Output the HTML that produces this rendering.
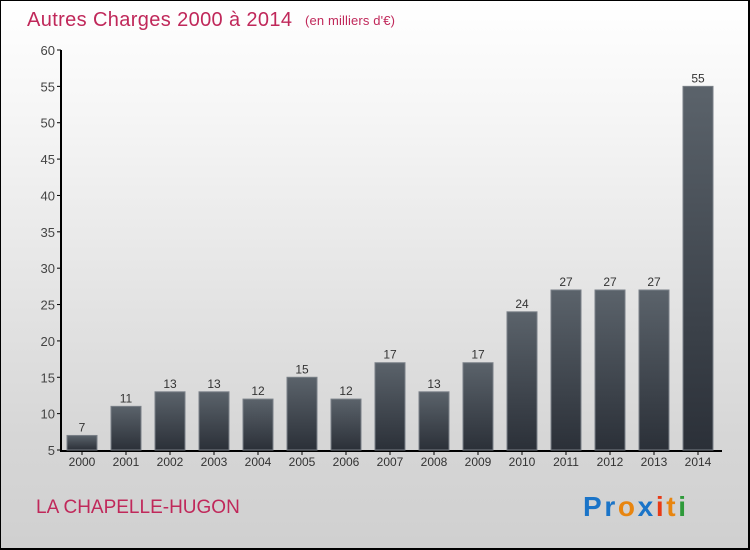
<!DOCTYPE html>
<html><head><meta charset="utf-8"><style>
body{margin:0}
#c{width:750px;height:550px;position:relative;box-sizing:border-box;border:1px solid #000;border-right-width:2px;border-bottom-width:2px;background:linear-gradient(#ffffff,#f6f6f6 20%,#d6d6d6 80%,#d0d0d0);font-family:"Liberation Sans",sans-serif;overflow:hidden}
svg text{font-family:"Liberation Sans",sans-serif}
</style></head><body>
<div id="c">
<svg id="s" width="750" height="550" style="position:absolute;left:-1px;top:-1px">
<defs><linearGradient id="g" x1="0" y1="0" x2="0" y2="1"><stop offset="0" stop-color="#5b636b"/><stop offset="1" stop-color="#2b3038"/></linearGradient></defs>
<text x="27" y="26" font-size="20" fill="#c0285a" textLength="265">Autres Charges 2000 à 2014</text>
<text x="305" y="25" font-size="13" fill="#c0285a" textLength="90">(en milliers d'€)</text>
<text x="36" y="513" font-size="19" fill="#c0285a">LA CHAPELLE-HUGON</text>
<text x="583" y="516" font-size="28" font-weight="bold" textLength="103"><tspan fill="#1a74c8">Pr</tspan><tspan fill="#e8850f">o</tspan><tspan fill="#1a74c8">x</tspan><tspan fill="#e83a16">i</tspan><tspan fill="#e8850f">t</tspan><tspan fill="#2e9a3a">i</tspan></text>
<g id="ax"></g><g id="bars"></g>
</svg></div>
<script>
const years=["2000","2001","2002","2003","2004","2005","2006","2007","2008","2009","2010","2011","2012","2013","2014"];
const values=[7,11,13,13,12,15,12,17,13,17,24,27,27,27,55];
const yTicks=[5,10,15,20,25,30,35,40,45,50,55,60];
const NS="http://www.w3.org/2000/svg";
const y=v=>450-(v-5)*400/55;
const x=i=>82+i*44;
function mk(t,a,p){const e=document.createElementNS(NS,t);for(const k in a)e.setAttribute(k,a[k]);p.appendChild(e);return e;}
const ax=document.getElementById('ax'),bg=document.getElementById('bars');
let l=mk('line',{x1:61,y1:50,x2:61,y2:451,stroke:'#000','stroke-width':2},ax);


l=mk('line',{x1:60,y1:451,x2:722,y2:451,stroke:'#000','stroke-width':2},ax);


yTicks.forEach(v=>{
  const t=mk('line',{x1:57,x2:61,y1:y(v),y2:y(v),stroke:'#000'},ax);
  
  
  const tx=mk('text',{x:55,y:y(v)+5,'text-anchor':'end','font-size':13,fill:'#444'},ax);
  tx.textContent=v;
  
  
});
years.forEach((yr,i)=>{
  const v=values[i];
  const r=mk('rect',{x:x(i)-15,y:y(v),width:30,height:450-y(v),fill:'url(#g)',stroke:'#7a8088','stroke-width':1},bg);
  
  
  const t=mk('line',{x1:x(i),x2:x(i),y1:451,y2:455,stroke:'#000'},ax);
  
  
  const xl=mk('text',{x:x(i),y:466,'text-anchor':'middle','font-size':12,fill:'#333'},ax);
  xl.textContent=yr;
  
  
  const vl=mk('text',{x:x(i),y:y(v)-4,'text-anchor':'middle','font-size':12,fill:'#333'},bg);
  vl.textContent=v;
  
  
});
</script>
</body></html>
